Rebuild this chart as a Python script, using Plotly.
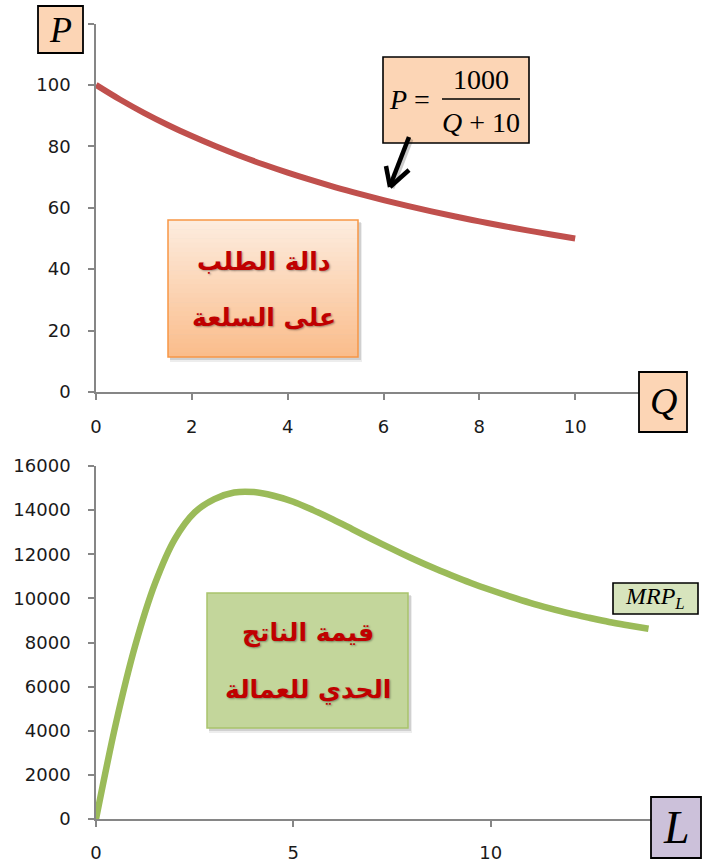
import plotly.graph_objects as go

W, H = 702, 863

# ---- demand curve P = 1000 / (Q + 10) ----
q_vals = [0, 0.5, 1, 1.5, 2, 2.5, 3, 3.5, 4, 4.5, 5, 5.5, 6, 6.5, 7, 7.5, 8, 8.5, 9, 9.5, 10]
p_vals = [100.00, 95.24, 90.91, 86.96, 83.33, 80.00, 76.92, 74.07, 71.43, 68.97, 66.67,
          64.52, 62.50, 60.61, 58.82, 57.14, 55.56, 54.05, 52.63, 51.28, 50.00]

# ---- marginal revenue product of labour ----
l_vals = [0, 0.5, 1, 1.5, 2, 2.5, 3, 3.5, 4, 4.5, 5, 5.5, 6, 6.5, 7, 7.5, 8, 8.5, 9, 9.5,
          10, 10.5, 11, 11.5, 12, 12.5, 13, 13.5, 14]
mrp_vals = [0, 4300, 7900, 10700, 12700, 13900, 14500, 14800, 14820, 14650, 14380, 14000,
            13580, 13130, 12680, 12240, 11820, 11420, 11050, 10700, 10380, 10080, 9800,
            9550, 9320, 9120, 8930, 8770, 8620]

# tick labels
top_x_ticks = [0, 2, 4, 6, 8, 10, 12]
top_x_text = ["0", "2", "4", "6", "8", "10", ""]
top_y_ticks = [0, 20, 40, 60, 80, 100, 120]
top_y_text = ["0", "20", "40", "60", "80", "100", ""]
bot_x_ticks = [0, 5, 10, 15]
bot_x_text = ["0", "5", "10", ""]
bot_y_ticks = [0, 2000, 4000, 6000, 8000, 10000, 12000, 14000, 16000]
bot_y_text = [str(v) for v in bot_y_ticks]

RED = "#c0504d"
GREEN = "#9bbb59"
AXIS = "#868686"
TICKFONT = dict(family="DejaVu Sans", size=18, color="#1a1a1a")


def px(x):
    return x / W


def py(y):
    return 1 - y / H


fig = go.Figure()
fig.add_trace(go.Scatter(x=q_vals, y=p_vals, mode="lines", xaxis="x", yaxis="y",
                         line=dict(color=RED, width=6, shape="spline"), hoverinfo="skip"))
fig.add_trace(go.Scatter(x=l_vals, y=mrp_vals, mode="lines", xaxis="x2", yaxis="y2",
                         line=dict(color=GREEN, width=6.5, shape="spline", smoothing=0.9),
                         hoverinfo="skip"))

axis_common = dict(showline=True, linecolor=AXIS, linewidth=1.6, ticks="outside",
                   ticklen=6, tickwidth=1.6, tickcolor=AXIS, showgrid=False,
                   zeroline=False, tickfont=TICKFONT, fixedrange=True, automargin=False)

fig.update_layout(
    width=W, height=H,
    margin=dict(l=0, r=0, t=0, b=0, autoexpand=False),
    paper_bgcolor="white", plot_bgcolor="white",
    showlegend=False,
    xaxis=dict(domain=[px(96), px(671)], range=[0, 12], tickvals=top_x_ticks,
               ticktext=top_x_text, anchor="y", ticklabelstandoff=12, **axis_common),
    yaxis=dict(domain=[py(392), py(23.5)], range=[0, 120], tickvals=top_y_ticks,
               ticktext=top_y_text, anchor="x", ticklabelstandoff=14, **axis_common),
    xaxis2=dict(domain=[px(96), px(688)], range=[0, 15], tickvals=bot_x_ticks,
                ticktext=bot_x_text, anchor="y2", ticklabelstandoff=11, **axis_common),
    yaxis2=dict(domain=[py(819), py(466)], range=[0, 16000], tickvals=bot_y_ticks,
                ticktext=bot_y_text, anchor="x2", ticklabelstandoff=14, **axis_common),
)

shapes = []
annotations = []


def rect(x0, y0, x1, y1, fill, line_color=None, line_width=0):
    shapes.append(dict(type="rect", xref="paper", yref="paper", layer="above",
                       x0=px(x0), x1=px(x1), y0=py(y1), y1=py(y0),
                       fillcolor=fill,
                       line=dict(color=line_color or "rgba(0,0,0,0)", width=line_width)))


def shadow(x0, y0, x1, y1):
    rect(x0 + 2, y0 + 3, x1 + 4, y1 + 5, "rgba(0,0,0,0.07)")
    rect(x0 + 2, y0 + 2, x1 + 3, y1 + 3, "rgba(0,0,0,0.12)")


def line(x0, y0, x1, y1, color="black", width=1.5):
    shapes.append(dict(type="line", xref="paper", yref="paper", layer="above",
                       x0=px(x0), x1=px(x1), y0=py(y0), y1=py(y1),
                       line=dict(color=color, width=width)))


def text(x, y, s, size, color="black", family="Liberation Serif", shadow_css=None):
    font = dict(family=family, size=size, color=color)
    if shadow_css:
        font["shadow"] = shadow_css
    annotations.append(dict(xref="paper", yref="paper", x=px(x), y=py(y), text=s,
                            showarrow=False, xanchor="center", yanchor="middle", font=font))


# axis title boxes
rect(38, 6, 83, 53, "#fcd5b5", "black", 1.8)
text(60, 30, "<i>P</i>", 36)
rect(639, 372, 687, 432, "#fcd5b5", "black", 1.8)
text(663, 401, "<i>Q</i>", 38)
rect(651, 797, 701, 858, "#ccc1da", "black", 1.8)
text(676, 827, "<i>L</i>", 46)

# formula box with arrow to the demand curve
rect(383, 57, 529, 143, "#fcd5b5", "black", 1.6)
text(409, 99, "<i>P</i> =", 28)
text(481, 79, "1000", 28)
line(442, 99, 520, 99, "black", 1.6)
text(481, 122, "<i>Q</i> + 10", 28)
line(411, 139, 392, 188, "rgba(0,0,0,0.2)", 5)
line(409, 137, 390, 186, "black", 4.5)
line(390, 187, 386, 166, "black", 4.5)
line(390, 187, 409, 170, "black", 4.5)

# demand label box (vertical gradient)
bx0, by0, bx1, by1 = 168, 220, 358, 357
shadow(bx0, by0, bx1, by1)
n = 30
top_c, bot_c = (253, 236, 222), (250, 189, 140)
for i in range(n):
    t = i / (n - 1)
    c = tuple(round(top_c[k] + (bot_c[k] - top_c[k]) * t) for k in range(3))
    y0 = by0 + (by1 - by0) * i / n
    y1 = by0 + (by1 - by0) * (i + 1) / n + 0.6
    rect(bx0, y0, bx1, min(y1, by1), "rgb(%d,%d,%d)" % c)
rect(bx0, by0, bx1, by1, "rgba(0,0,0,0)", "#f79646", 1.5)
text(264, 262, "<b>دالة الطلب</b>", 25, "#c00000", "DejaVu Sans",
     "1px 1px 2px rgba(0,0,0,0.35)")
text(264, 317, "<b>على السلعة</b>", 25, "#c00000", "DejaVu Sans",
     "1px 1px 2px rgba(0,0,0,0.35)")

# MRP label box
gx0, gy0, gx1, gy1 = 207, 593, 408, 728
shadow(gx0, gy0, gx1, gy1)
rect(gx0, gy0, gx1, gy1, "#c3d69b", "#a9c46c", 1.5)
text(308, 633, "<b>قيمة الناتج</b>", 25, "#c00000", "DejaVu Sans",
     "1px 1px 2px rgba(0,0,0,0.35)")
text(308, 690, "<b>الحدي للعمالة</b>", 25, "#c00000", "DejaVu Sans",
     "1px 1px 2px rgba(0,0,0,0.35)")

# MRP_L series tag
rect(613, 583, 698, 614, "#d7e4bd", "black", 1.6)
text(655, 598, "<i>MRP</i><sub><i>L</i></sub>", 24)

fig.update_layout(shapes=shapes, annotations=annotations)
fig.write_html("out.html")
